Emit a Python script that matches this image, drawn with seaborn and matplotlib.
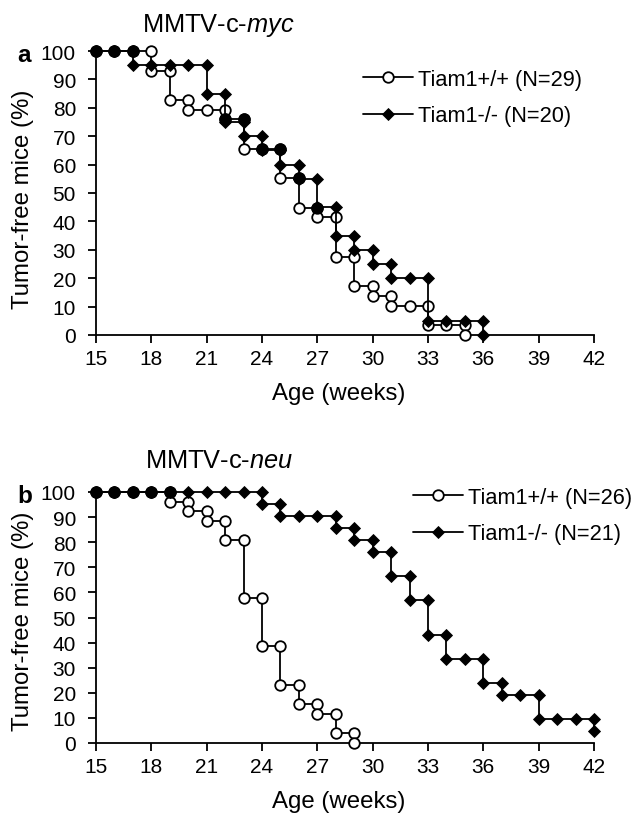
import numpy as np
import pandas as pd
import seaborn as sns
import matplotlib.pyplot as plt
from matplotlib.lines import Line2D

# weekly tumor-free percentages
myc_wt_weeks = list(range(15, 36))
myc_wt_pct = [100, 100, 100, 93.1, 82.8, 79.3, 79.3, 75.9, 65.5, 65.5, 55.2,
              44.8, 41.4, 27.6, 17.2, 13.8, 10.3, 10.3, 3.4, 3.4, 0]
myc_ko_weeks = list(range(15, 37))
myc_ko_pct = [100, 100, 95, 95, 95, 95, 85, 75, 70, 65, 60, 55, 45, 35, 30,
              25, 20, 20, 5, 5, 5, 0]

neu_wt_weeks = list(range(15, 30))
neu_wt_pct = [100, 100, 100, 100, 96.2, 92.3, 88.5, 80.8, 57.7, 38.5, 23.1,
              15.4, 11.5, 3.8, 0]
neu_ko_weeks = list(range(15, 43))
neu_ko_pct = [100, 100, 100, 100, 100, 100, 100, 100, 100, 95.2, 90.5, 90.5,
              90.5, 85.7, 81.0, 76.2, 66.7, 57.1, 42.9, 33.3, 33.3, 23.8, 19.0,
              19.0, 9.5, 9.5, 9.5, 4.8]

panel_titles = ["MMTV-c-$\\mathit{myc}$", "MMTV-c-$\\mathit{neu}$"]
panel_letters = ["a", "b"]
legend_labels = [["Tiam1+/+ (N=29)", "Tiam1-/- (N=20)"],
                 ["Tiam1+/+ (N=26)", "Tiam1-/- (N=21)"]]
x_ticks = list(range(15, 43, 3))
y_ticks = list(range(0, 101, 10))

sns.set_style("ticks")
plt.rcParams['font.family'] = ['Liberation Sans', 'DejaVu Sans']
plt.rcParams['mathtext.fontset'] = 'custom'
plt.rcParams['mathtext.rm'] = 'Liberation Sans'
plt.rcParams['mathtext.it'] = 'Liberation Sans:italic'
plt.rcParams['text.color'] = 'black'
plt.rcParams['axes.labelcolor'] = 'black'
plt.rcParams['xtick.color'] = 'black'
plt.rcParams['ytick.color'] = 'black'


def step_points(weeks, pct):
    # each drop gets a marker at the old and the new level
    xs, ys = [], []
    prev = None
    for w, p in zip(weeks, pct):
        if prev is not None and p != prev:
            xs.append(w)
            ys.append(prev)
        xs.append(w)
        ys.append(p)
        prev = p
    return pd.DataFrame({'week': xs, 'pct': ys})


fig = plt.figure(figsize=(6.35, 8.2), dpi=100)
W, H = 635, 820
ax_a = fig.add_axes([96 / W, 1 - 336 / H, 498 / W, 284 / H])
ax_b = fig.add_axes([96 / W, 1 - 744 / H, 498 / W, 251 / H])

panels = [
    (ax_a, step_points(myc_wt_weeks, myc_wt_pct), step_points(myc_ko_weeks, myc_ko_pct)),
    (ax_b, step_points(neu_wt_weeks, neu_wt_pct), step_points(neu_ko_weeks, neu_ko_pct)),
]

title_x = [218 / W, 219 / W]
title_y = [1 - 32 / H, 1 - 468 / H]
letter_y = [1 - 62 / H, 1 - 503 / H]
legend_pos = [(363 / W, 1 - 98.5 / H), (413 / W, 1 - 516.5 / H)]
axis_h = [284, 251]
ylabel_y = [0.482, 0.49]

circle = dict(marker='o', ms=7.6, mfc='white', mec='black', mew=1.3)
diamond = dict(marker='D', ms=6.2, mfc='black', mec='black', mew=0.6)

for i, (ax, wt, ko) in enumerate(panels):
    sns.lineplot(data=wt, x='week', y='pct', ax=ax, sort=False, estimator=None,
                 color='black', lw=1.3, clip_on=False, zorder=3, **circle)
    sns.lineplot(data=ko, x='week', y='pct', ax=ax, sort=False, estimator=None,
                 color='black', lw=1.3, clip_on=False, zorder=4, **diamond)
    # where both curves sit on the same spot the markers merge into a dot
    both = wt.merge(ko, on='week', suffixes=('_wt', '_ko'))
    both = both[(both['pct_wt'] - both['pct_ko']).abs() < 1.0]
    sns.scatterplot(data=both, x='week', y='pct_wt', ax=ax, color='black',
                    s=58, marker='o', edgecolor='black', linewidth=1.3,
                    clip_on=False, zorder=5)

    ax.set_xlim(15, 42)
    ax.set_ylim(0, 100)
    ax.set_xticks(x_ticks)
    ax.set_yticks(y_ticks)
    ax.tick_params(axis='both', direction='out', width=1.3, colors='black',
                   labelsize=15, length=5.8)
    ax.tick_params(axis='x', pad=4.5)
    ax.tick_params(axis='y', pad=8.6)
    for side in ['top', 'right']:
        ax.spines[side].set_visible(False)
    for side in ['left', 'bottom']:
        ax.spines[side].set_linewidth(1.3)
        ax.spines[side].set_color('black')

    ax.set_xlabel('Age (weeks)', fontsize=17.3)
    ax.set_ylabel('Tumor-free mice (%)', fontsize=17.3)
    ax.xaxis.set_label_coords(0.487, -47 / axis_h[i])
    ax.yaxis.set_label_coords(-0.124, ylabel_y[i])

    fig.text(title_x[i], title_y[i], panel_titles[i], ha='center',
             va='baseline', fontsize=18.3)
    fig.text(17 / W, letter_y[i], panel_letters[i], ha='left', va='baseline',
             fontsize=17.5, fontweight='bold')

    handles = [Line2D([], [], color='black', lw=1.3, **circle),
               Line2D([], [], color='black', lw=1.3, **diamond)]
    fig.legend(handles, legend_labels[i], loc='center left',
               bbox_to_anchor=legend_pos[i], frameon=False, fontsize=15.7,
               handlelength=2.3, handletextpad=0.23, labelspacing=0.73,
               borderpad=0, borderaxespad=0)

plt.savefig('out.png', dpi=100)
